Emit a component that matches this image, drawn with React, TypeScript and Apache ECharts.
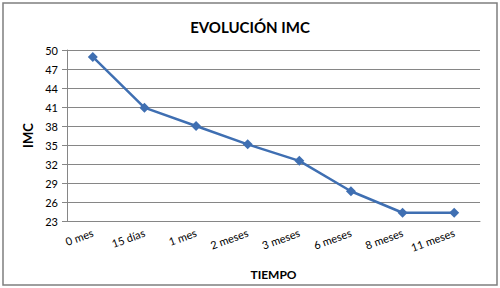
import React, { useEffect, useRef } from "react";
import * as echarts from "echarts";

const categories = ["0 mes", "15 días", "1 mes", "2 meses", "3 meses", "6 meses", "8 meses", "11 meses"];
const imcValues = [48.9, 40.9, 38.0, 35.1, 32.5, 27.7, 24.3, 24.3];
const yMin = 23;
const yMax = 50;
const yInterval = 3;

const FONT = "Lato, 'Open Sans', sans-serif";

export default function App() {
  const ref = useRef<HTMLDivElement>(null);
  useEffect(() => {
    if (!ref.current) return;
    const chart = echarts.init(ref.current, null, { renderer: "svg" });
    chart.setOption({
      animation: false,
      backgroundColor: "#ffffff",
      textStyle: { fontFamily: FONT },
      title: {
        text: "EVOLUCIÓN IMC",
        left: "center",
        top: 14,
        textStyle: { fontFamily: FONT, fontSize: 15, fontWeight: "bold", color: "#000" },
      },
      graphic: [
        {
          type: "rect",
          shape: { x: 3, y: 3, width: 494, height: 282 },
          style: { fill: "none", stroke: "#7f7f7f", lineWidth: 1.5 },
          silent: true,
        },
      ],
      grid: { left: 67, right: 20, top: 50, bottom: 67, containLabel: false },
      xAxis: {
        type: "category",
        data: categories,
        boundaryGap: true,
        name: "TIEMPO",
        nameLocation: "middle",
        nameGap: 47,
        nameTextStyle: { fontFamily: FONT, fontSize: 12, fontWeight: "bold", color: "#000" },
        axisLine: { lineStyle: { color: "#868686", width: 1 } },
        axisTick: { show: false },
        axisLabel: { rotate: 20, interval: 0, margin: 11, fontFamily: FONT, fontSize: 11, color: "#000" },
      },
      yAxis: {
        type: "value",
        min: yMin,
        max: yMax,
        interval: yInterval,
        name: "IMC",
        nameLocation: "middle",
        nameRotate: 90,
        nameGap: 30,
        nameTextStyle: { fontFamily: FONT, fontSize: 13, fontWeight: "bold", color: "#000" },
        axisLine: { show: true, lineStyle: { color: "#868686", width: 1 } },
        axisTick: { show: true, length: 5, lineStyle: { color: "#868686" } },
        axisLabel: { margin: 9, fontFamily: FONT, fontSize: 11, color: "#000" },
        splitLine: { lineStyle: { color: "#868686", width: 1 } },
      },
      series: [
        {
          type: "line",
          data: imcValues,
          symbol: "diamond",
          symbolSize: 10,
          lineStyle: { color: "#3f6fb2", width: 2.5 },
          itemStyle: { color: "#3f6fb2" },
        },
      ],
    });
    return () => chart.dispose();
  }, []);
  return <div ref={ref} style={{ width: 500, height: 288, position: "absolute", left: 0, top: 0 }} />;
}
